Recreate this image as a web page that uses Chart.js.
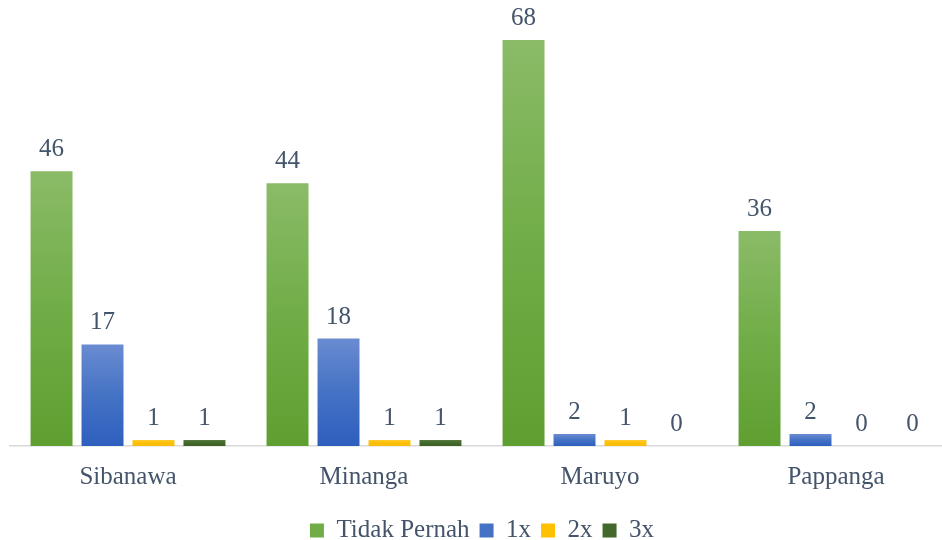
<!DOCTYPE html>
<html>
<head>
<meta charset="utf-8">
<script src="https://cdn.jsdelivr.net/npm/chart.js@4"></script>
<style>
  html, body { margin: 0; padding: 0; background: #fff; overflow: hidden; width: 942px; height: 540px; }
  #wrap { position: absolute; left: 0; top: 0; width: 954px; height: 553px; }
</style>
</head>
<body>
<div id="wrap"><canvas id="c" width="954" height="553"></canvas></div>
<script>
const categories = ["Sibanawa", "Minanga", "Maruyo", "Pappanga"];
const seriesNames = ["Tidak Pernah", "1x", "2x", "3x"];
const tidakPernah = [46, 44, 68, 36];
const satuKali = [17, 18, 2, 2];
const duaKali = [1, 1, 1, 0];
const tigaKali = [1, 1, 0, 0];

const FONT = "'Liberation Serif', 'DejaVu Serif', serif";
const TEXT = "#44546A";

const palettes = [
  { base: "#70AD47", top: "#8BBB68", bottom: "#5F9F31" },
  { base: "#4472C4", top: "#6A8BD1", bottom: "#2E5FBE" },
  { base: "#FFC000", top: "#FFC933", bottom: "#F7BB12" },
  { base: "#43682B", top: "#58793F", bottom: "#3B5F25" }
];

function gradFor(i) {
  const p = palettes[i];
  return function (c) {
    const chart = c.chart;
    const area = chart.chartArea;
    if (!area || c.type !== 'data' || !c.parsed) return p.base;
    const ys = chart.scales.y;
    const t = ys.getPixelForValue(c.parsed.y);
    const b = ys.getPixelForValue(0);
    if (!isFinite(t) || !isFinite(b) || Math.abs(b - t) < 1) return p.base;
    const g = chart.ctx.createLinearGradient(0, t, 0, b);
    g.addColorStop(0, p.top);
    g.addColorStop(0.5, p.base);
    g.addColorStop(1, p.bottom);
    return g;
  };
}

const valueLabels = {
  id: 'valueLabels',
  afterDatasetsDraw(chart) {
    const ctx = chart.ctx;
    ctx.save();
    ctx.fillStyle = TEXT;
    ctx.font = "25px " + FONT;
    ctx.textAlign = 'center';
    ctx.textBaseline = 'alphabetic';
    chart.data.datasets.forEach((ds, di) => {
      const meta = chart.getDatasetMeta(di);
      meta.data.forEach((el, i) => {
        ctx.fillText(String(ds.data[i]), el.x, el.y - 15);
      });
    });
    ctx.restore();
  }
};

const allSeries = [tidakPernah, satuKali, duaKali, tigaKali];

new Chart(document.getElementById('c'), {
  type: 'bar',
  data: {
    labels: categories,
    datasets: allSeries.map((d, i) => ({
      label: seriesNames[i],
      data: d,
      backgroundColor: gradFor(i),
      borderWidth: 0,
      categoryPercentage: 0.864,
      barPercentage: 0.8235
    }))
  },
  options: {
    responsive: false,
    animation: false,
    devicePixelRatio: 1,
    layout: { padding: { left: 10, right: 0, top: 16, bottom: 0 } },
    plugins: {
      tooltip: { enabled: false },
      legend: {
        position: 'bottom',
        labels: {
          boxWidth: 14,
          boxHeight: 14,
          padding: 10,
          color: TEXT,
          font: { family: FONT, size: 25 },
          generateLabels(chart) {
            return chart.data.datasets.map((ds, i) => ({
              text: ds.label,
              fillStyle: palettes[i].base,
              strokeStyle: palettes[i].base,
              lineWidth: 0,
              hidden: false,
              datasetIndex: i,
              fontColor: TEXT
            }));
          }
        }
      }
    },
    scales: {
      x: {
        grid: { display: false, drawTicks: false },
        border: { display: true, color: '#D9D9D9', width: 1.5 },
        ticks: { color: TEXT, font: { family: FONT, size: 25 }, padding: 16 }
      },
      y: {
        display: false,
        min: 0,
        max: 72
      }
    }
  },
  plugins: [valueLabels]
});
</script>
</body>
</html>
